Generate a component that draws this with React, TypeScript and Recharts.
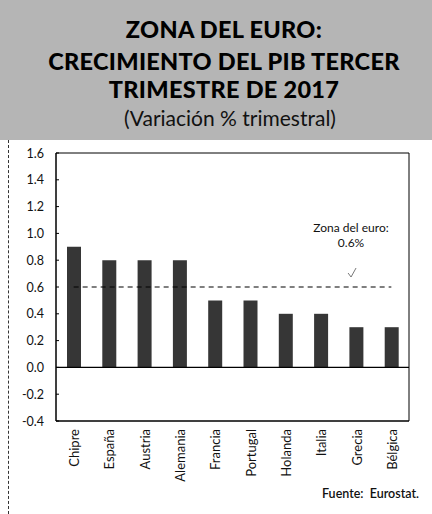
import React from 'react';
import { BarChart, Bar, XAxis, YAxis, ReferenceLine, ReferenceArea, ReferenceDot } from 'recharts';

const categories = ['Chipre', 'España', 'Austria', 'Alemania', 'Francia', 'Portugal', 'Holanda', 'Italia', 'Grecia', 'Bélgica'];
const growth = [0.9, 0.8, 0.8, 0.8, 0.5, 0.5, 0.4, 0.4, 0.3, 0.3];
const yTicks = [-0.4, -0.2, 0, 0.2, 0.4, 0.6, 0.8, 1.0, 1.2, 1.4, 1.6];
const euroAverage = 0.6;
const euroLabel = ['Zona del euro:', '0.6%'];
const titleLines = ['ZONA DEL EURO:', 'CRECIMIENTO DEL PIB TERCER', 'TRIMESTRE DE 2017'];
const subtitle = '(Variación % trimestral)';
const source = 'Fuente:  Eurostat.';

const data = categories.map((name, i) => ({ name, value: growth[i] }));
const FONT = 'Lato, "Open Sans", sans-serif';

const YTick = (props: any) => {
  const { x, y, payload } = props;
  return (
    <g>
      <text x={x} y={y} dy="0.36em" textAnchor="end" fontSize={12.5} fontFamily={FONT} fill="#111">
        {Number(payload.value).toFixed(1)}
      </text>
      <line x1={x + 12} x2={x + 15} y1={y} y2={y} stroke="#000" strokeWidth={1} />
    </g>
  );
};

const XTick = (props: any) => {
  const { x, y, payload } = props;
  return (
    <text
      x={x}
      y={y}
      dy="0.42em"
      textAnchor="end"
      transform={`rotate(-90, ${x}, ${y})`}
      fontSize={13}
      fontFamily={FONT}
      fill="#111"
    >
      {payload.value}
    </text>
  );
};

const EuroNote = (props: any) => {
  const vb = props.viewBox || {};
  const cx = vb.x ?? props.cx ?? 0;
  const cy = vb.y ?? props.cy ?? 0;
  const tx = cx - 5;
  return (
    <g>
      <text x={tx} y={cy - 55} textAnchor="middle" fontSize={12} fontFamily={FONT} fill="#111">
        {euroLabel[0]}
      </text>
      <text x={tx} y={cy - 40} textAnchor="middle" fontSize={12} fontFamily={FONT} fill="#111">
        {euroLabel[1]}
      </text>
      <polyline
        points={`${cx - 8},${cy - 14} ${cx - 5},${cy - 10} ${cx},${cy - 19}`}
        fill="none"
        stroke="#555"
        strokeWidth={0.8}
      />
    </g>
  );
};

export default function App() {
  return (
    <div style={{ position: 'absolute', left: 0, top: 0, width: 432, height: 514, background: '#fff', overflow: 'hidden' }}>
      <svg width={432} height={140} style={{ position: 'absolute', left: 0, top: 0 }}>
        <rect x={0} y={0} width={432} height={140} fill="#b5b5b5" />
        <g fontFamily={FONT} fontWeight={900} fontSize={23.5} letterSpacing={0.3} fill="#000" textAnchor="middle">
          <text x={224} y={38}>{titleLines[0]}</text>
          <text x={224} y={70}>{titleLines[1]}</text>
          <text x={224} y={98}>{titleLines[2]}</text>
        </g>
        <text x={230} y={126} textAnchor="middle" fontFamily={FONT} fontSize={21} fill="#111">
          {subtitle}
        </text>
      </svg>
      <div style={{ position: 'absolute', left: 8, top: 140, width: 0, height: 374, borderLeft: '1px dashed #333' }} />
      <div style={{ position: 'absolute', left: 0, top: 137 }}>
        <BarChart width={432} height={377} data={data} margin={{ top: 16, right: 23, bottom: 0, left: 0 }}>
          <YAxis
            type="number"
            domain={[-0.4, 1.6]}
            ticks={yTicks}
            interval={0}
            width={56}
            tickSize={0}
            tickMargin={12}
            tickLine={false}
            axisLine={{ stroke: '#000', strokeWidth: 1 }}
            tick={<YTick />}
          />
          <XAxis
            dataKey="name"
            type="category"
            interval={0}
            height={93}
            tickSize={0}
            tickMargin={8}
            tickLine={false}
            axisLine={{ stroke: '#000', strokeWidth: 1 }}
            tick={<XTick />}
          />
          <ReferenceArea y1={-0.4} y2={1.6} fill="none" stroke="#000" strokeWidth={1} ifOverflow="visible" />
          <Bar dataKey="value" fill="#363636" barSize={14} isAnimationActive={false} />
          <ReferenceLine y={0} stroke="#000" strokeWidth={1.2} />
          <ReferenceLine
            segment={[{ x: categories[0], y: euroAverage }, { x: categories[categories.length - 1], y: euroAverage }]}
            stroke="#000"
            strokeWidth={1.2}
            strokeDasharray="5 4"
          />
          <ReferenceDot x={categories[8]} y={euroAverage} r={0} fill="none" stroke="none" label={<EuroNote />} />
        </BarChart>
      </div>
      <div
        style={{
          position: 'absolute',
          left: 322,
          top: 486,
          fontFamily: FONT,
          fontSize: 12.5,
          fontWeight: 600,
          color: '#111',
          whiteSpace: 'pre',
        }}
      >
        {source}
      </div>
    </div>
  );
}
